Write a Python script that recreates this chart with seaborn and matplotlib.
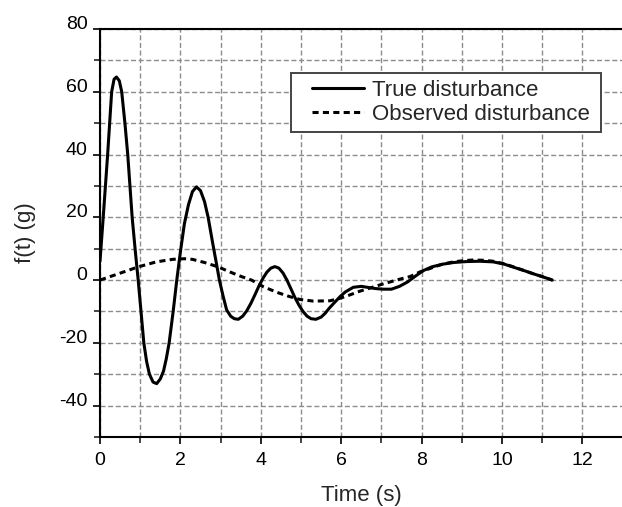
import numpy as np
import pandas as pd
import matplotlib
matplotlib.use("Agg")
import matplotlib.pyplot as plt
import seaborn as sns
from matplotlib.ticker import MultipleLocator
from matplotlib.legend_handler import HandlerLine2D
from matplotlib.lines import Line2D

# ---- data ----
t_true = [0.0, 0.08, 0.19, 0.29, 0.35, 0.41, 0.48, 0.54, 0.62, 0.69, 0.80, 0.88, 0.95,
          1.02, 1.09, 1.16, 1.23, 1.32, 1.41, 1.50, 1.58, 1.65, 1.72, 1.82, 1.91, 2.00,
          2.10, 2.20, 2.30, 2.40, 2.50, 2.60, 2.69, 2.80, 2.90, 2.97, 3.06, 3.15, 3.25,
          3.34, 3.44, 3.55, 3.65, 3.75, 3.85, 3.95, 4.05, 4.15, 4.25, 4.35, 4.45, 4.55,
          4.65, 4.75, 4.85, 4.95, 5.05, 5.15, 5.25, 5.37, 5.50, 5.60, 5.70, 5.80, 5.97,
          6.10, 6.30, 6.50, 6.65, 6.85, 7.05, 7.25, 7.45, 7.65, 7.85, 8.04, 8.25, 8.54,
          8.80, 9.12, 9.45, 9.78, 10.05, 10.36, 10.60, 10.78, 11.00, 11.25]
f_true = [6.0, 20.0, 40.0, 60.0, 64.0, 64.7, 63.5, 60.0, 50.0, 40.0, 20.0, 9.0, 0.0,
          -10.0, -20.0, -26.0, -30.0, -32.5, -33.0, -31.5, -29.0, -25.0, -20.0, -10.0, 0.0, 9.0,
          18.0, 24.0, 28.2, 29.7, 28.5, 25.0, 20.0, 12.0, 5.0, 0.0, -5.0, -9.5, -11.5,
          -12.3, -12.5, -11.5, -9.8, -7.5, -4.8, -2.0, 0.5, 2.5, 3.8, 4.3, 3.8, 2.3,
          0.0, -2.8, -5.6, -8.0, -10.0, -11.5, -12.3, -12.5, -11.8, -10.6, -9.0, -7.6, -5.3,
          -3.8, -2.3, -2.0, -2.3, -2.7, -2.9, -2.9, -2.0, -0.6, 1.3, 3.0, 4.2, 5.1,
          5.6, 5.9, 6.0, 5.8, 5.1, 3.8, 2.8, 2.0, 1.1, 0.0]

t_obs = [0.0, 0.5, 0.95, 1.40, 1.80, 2.10, 2.30, 2.60, 2.94, 3.23, 3.50, 3.77, 4.06,
         4.40, 4.70, 4.98, 5.31, 5.72, 5.97, 6.20, 6.45, 6.70, 7.05, 7.46, 7.71, 7.96,
         8.21, 8.50, 8.79, 9.05, 9.29, 9.55, 9.78, 10.05, 10.36, 10.60, 10.78, 11.00, 11.25]
f_obs = [0.0, 2.2, 4.2, 5.8, 6.6, 6.8, 6.6, 5.6, 4.2, 2.6, 1.2, 0.0, -2.1,
         -3.9, -5.2, -6.2, -6.7, -6.6, -5.8, -4.8, -3.6, -2.6, -1.2, 0.3, 1.1, 2.6,
         3.7, 5.0, 5.8, 6.2, 6.4, 6.3, 6.0, 5.2, 3.9, 2.8, 2.0, 1.1, 0.0]

series_names = ["True disturbance", "Observed disturbance"]
x_major = [0, 2, 4, 6, 8, 10, 12]
y_major = [-40, -20, 0, 20, 40, 60, 80]

df = pd.concat([
    pd.DataFrame({"t": t_true, "f": f_true, "series": series_names[0]}),
    pd.DataFrame({"t": t_obs, "f": f_obs, "series": series_names[1]}),
], ignore_index=True)

sns.set_style("ticks")
plt.rcParams["font.family"] = ["Liberation Sans", "DejaVu Sans"]
plt.rcParams["axes.unicode_minus"] = False

fig = plt.figure(figsize=(6.22, 5.07), dpi=100)
ax = fig.add_axes([100 / 622, 1 - 437 / 507, 522.6 / 622, (437 - 29) / 507])

sns.lineplot(data=df, x="t", y="f", hue="series", style="series",
             hue_order=series_names, style_order=series_names,
             palette=["black", "black"], dashes={series_names[0]: "",
                                                 series_names[1]: (2.0, 1.4)},
             sort=False, estimator=None, linewidth=2.2, ax=ax, zorder=3)

ax.set_xlim(0, 13)
ax.set_ylim(-50, 80)
ax.set_xticks(x_major)
ax.set_yticks(y_major)
ax.xaxis.set_minor_locator(MultipleLocator(1))
ax.yaxis.set_minor_locator(MultipleLocator(10))

grid_kw = dict(color="#8c8c8c", linewidth=1.0, linestyle=(0, (3.6, 1.9)))
ax.grid(True, which="both", **grid_kw)
ax.set_axisbelow(True)

for side in ["left", "bottom", "top"]:
    ax.spines[side].set_visible(True)
    ax.spines[side].set_linewidth(1.5)
    ax.spines[side].set_color("black")
ax.spines["right"].set_visible(False)

ax.tick_params(axis="both", which="major", direction="out", length=5, width=1.2,
               labelsize=14, colors="black")
ax.tick_params(axis="both", which="minor", direction="out", length=4, width=1.2)
ax.tick_params(axis="y", which="major", pad=4)
ax.tick_params(axis="x", which="major", pad=6)
ax.tick_params(top=False, which="both")

for lbl in ax.get_yticklabels():
    lbl.set_verticalalignment("baseline")

ax.set_xlabel("Time (s)", fontsize=16, labelpad=11)
ax.set_ylabel("f(t) (g)", fontsize=16, labelpad=17)


class IndentedLine(HandlerLine2D):
    """Line handle that starts a little to the right of the legend frame."""
    def __init__(self, indent_pt, **kw):
        super().__init__(**kw)
        self.indent_pt = indent_pt

    def get_xdata(self, legend, xdescent, ydescent, width, height, fontsize):
        xdata = np.array([-xdescent + self.indent_pt, -xdescent + width])
        return xdata, np.array([-xdescent + 0.5 * width])


handles, labels = ax.get_legend_handles_labels()
if ax.get_legend() is not None:
    ax.get_legend().remove()
hmap = {h: IndentedLine(10.5) for h in handles}
x0 = (291 - 100) / 522.6
w = (601 - 291) / 522.6
y1 = (437 - 73) / 408
h = (132 - 73) / 408
leg = ax.legend(handles, labels, handler_map=hmap, loc="upper left",
                bbox_to_anchor=(x0, y1 - h, w, h), mode="expand",
                fontsize=16, frameon=True, fancybox=False, handlelength=3.0,
                handletextpad=0.33, borderpad=0.3, labelspacing=0.15,
                borderaxespad=0)
leg.get_frame().set_edgecolor("#444444")
leg.get_frame().set_linewidth(1.4)
leg.get_frame().set_alpha(1)
for line in leg.get_lines():
    line.set_linewidth(2.2)
    line.set_color("black")

fig.savefig("out.png", dpi=100)
